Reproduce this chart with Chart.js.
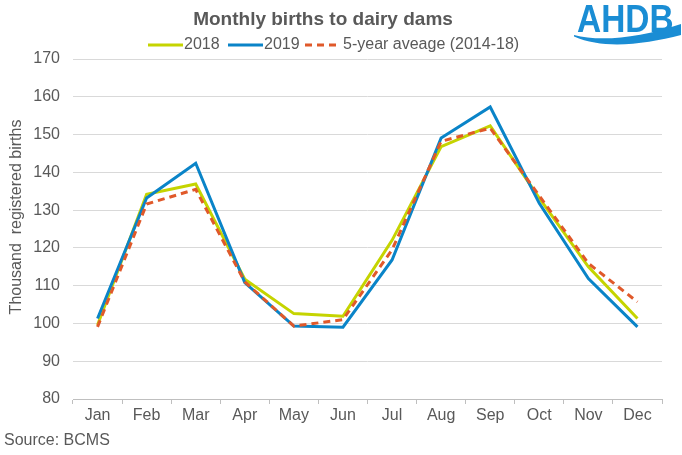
<!DOCTYPE html>
<html>
<head>
<meta charset="utf-8">
<script src="https://cdn.jsdelivr.net/npm/chart.js@4/dist/chart.umd.min.js"></script>
<style>
  html, body { margin: 0; padding: 0; background: #fff; }
  #wrap { width: 682px; height: 455px; }
</style>
</head>
<body>
<div id="wrap"><canvas id="chartBirths" width="682" height="455"></canvas></div>
<script>
// datos (miles de nacimientos registrados)
const months = ['Jan', 'Feb', 'Mar', 'Apr', 'May', 'Jun', 'Jul', 'Aug', 'Sep', 'Oct', 'Nov', 'Dec'];
const births2018 = [99.6, 134.2, 136.9, 111.7, 102.6, 101.9, 122.0, 146.8, 152.3, 133.2, 115.0, 101.3];
const births2019 = [101.3, 133.2, 142.4, 110.8, 99.3, 99.0, 116.8, 149.1, 157.3, 131.8, 111.9, 99.1];
const avg5yr = [99.1, 131.6, 135.5, 111.0, 99.3, 101.0, 119.5, 148.2, 151.7, 133.8, 115.9, 105.7];
const yTicks = [80, 170, 10]; // min, max, paso

const seriesNames = ['2018', '2019', '5-year aveage (2014-18)'];
const colors = ['#C5D400', '#0A84C8', '#E0592A'];
const textColor = '#595959';
const fontFamily = '"Liberation Sans", Arial, sans-serif';

// título, leyenda, eje Y, fuente y logo dibujados a mano
const decorPlugin = {
    id: 'decor',
    afterDraw(chart) {
        const ctx = chart.ctx;
        ctx.save();
        ctx.fillStyle = textColor;
        ctx.textBaseline = 'middle';

        ctx.font = 'bold 19px ' + fontFamily;
        ctx.textAlign = 'center';
        ctx.fillText('Monthly births to dairy dams', 323, 20);

        // leyenda
        ctx.font = '16px ' + fontFamily;
        ctx.textAlign = 'left';
        const items = [
            { x: 148, w: 35, dash: [] },
            { x: 228, w: 35, dash: [] },
            { x: 305, w: 34, dash: [7, 5] }
        ];
        items.forEach((it, i) => {
            ctx.strokeStyle = colors[i];
            ctx.lineWidth = 3;
            ctx.setLineDash(it.dash);
            ctx.beginPath();
            ctx.moveTo(it.x, 45);
            ctx.lineTo(it.x + it.w, 45);
            ctx.stroke();
            ctx.setLineDash([]);
            ctx.fillText(seriesNames[i], it.x + it.w + (i === 2 ? 4 : 1), 45);
        });

        // título del eje Y
        ctx.save();
        ctx.translate(17, 217);
        ctx.rotate(-Math.PI / 2);
        ctx.textAlign = 'center';
        ctx.fillText('Thousand  registered births', 0, 0);
        ctx.restore();

        ctx.fillText('Source: BCMS', 4, 441);

        // logo AHDB
        ctx.fillStyle = '#1A8DD4';
        ctx.save();
        ctx.translate(577, 32);
        ctx.scale(0.88, 1);
        ctx.font = 'bold 38px ' + fontFamily;
        ctx.textBaseline = 'alphabetic';
        ctx.fillText('AHDB', 0, 0);
        ctx.restore();
        ctx.beginPath();
        ctx.moveTo(574, 35);
        ctx.bezierCurveTo(600, 42, 640, 38, 681, 24);
        ctx.lineTo(681, 35);
        ctx.bezierCurveTo(645, 44, 605, 50, 574, 36.5);
        ctx.closePath();
        ctx.fill();
        ctx.restore();
    }
};

function makeSet(label, data, color, dash, order) {
    return {
        label: label,
        data: data,
        borderColor: color,
        backgroundColor: color,
        borderWidth: 3,
        borderDash: dash,
        pointRadius: 0,
        tension: 0,
        fill: false,
        order: order
    };
}

new Chart(document.getElementById('chartBirths').getContext('2d'), {
    type: 'line',
    data: {
        labels: months,
        datasets: [
            makeSet(seriesNames[0], births2018, colors[0], [], 2),
            makeSet(seriesNames[1], births2019, colors[1], [], 1),
            makeSet(seriesNames[2], avg5yr, colors[2], [7, 5], 0)
        ]
    },
    options: {
        responsive: false,
        animation: false,
        layout: { padding: { top: 59, right: 20, left: 0, bottom: 0 } },
        plugins: {
            legend: { display: false },
            title: { display: false },
            tooltip: { enabled: false }
        },
        scales: {
            x: {
                offset: true,
                afterFit: s => { s.height = 56; },
                grid: { offset: true, drawOnChartArea: false, drawTicks: true, tickLength: 5, color: '#BFBFBF' },
                border: { color: '#BFBFBF' },
                ticks: { color: textColor, font: { family: fontFamily, size: 16 }, padding: 2, maxRotation: 0 }
            },
            y: {
                min: yTicks[0],
                max: yTicks[1],
                afterFit: s => { s.width = 73; },
                grid: { color: '#D9D9D9', drawTicks: false },
                border: { display: false },
                ticks: { stepSize: yTicks[2], color: textColor, font: { family: fontFamily, size: 16 }, padding: 13 }
            }
        }
    },
    plugins: [decorPlugin]
});
</script>
</body>
</html>
